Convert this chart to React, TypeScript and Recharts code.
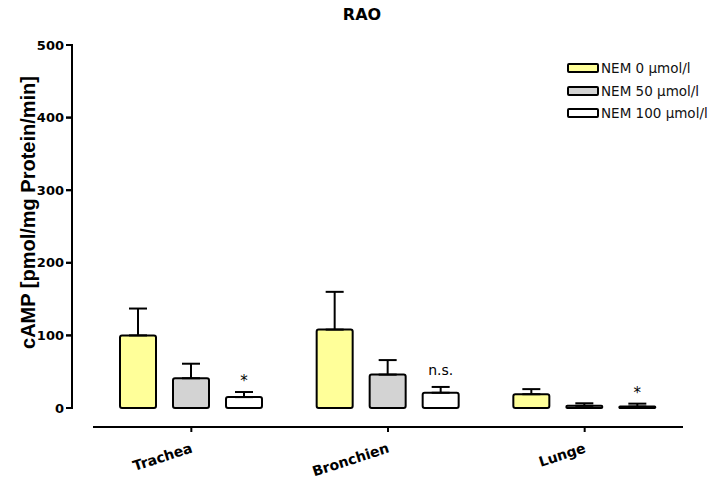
import { Bar, BarChart, ErrorBar, LabelList, XAxis, YAxis } from "recharts";

const categories = ["Trachea", "Bronchien", "Lunge"];
const nem0 = [100, 108, 19];
const nem0Err = [37, 52, 7];
const nem50 = [41, 46, 3];
const nem50Err = [20, 20, 3.5];
const nem100 = [15, 21, 2];
const nem100Err = [7, 8, 4];
const marks = ["*", "n.s.", "*"];
const yTicks = [0, 100, 200, 300, 400, 500];
const yDomain = [0, 500];

const series = [
  { key: "nem0", err: "nem0Err", name: "NEM 0 µmol/l", fill: "#ffff99" },
  { key: "nem50", err: "nem50Err", name: "NEM 50 µmol/l", fill: "#d3d3d3" },
  { key: "nem100", err: "nem100Err", name: "NEM 100 µmol/l", fill: "#ffffff" },
];

const data = categories.map((name, i) => ({
  name,
  nem0: nem0[i],
  nem0Err: nem0Err[i],
  nem50: nem50[i],
  nem50Err: nem50Err[i],
  nem100: nem100[i],
  nem100Err: nem100Err[i],
  mark: marks[i],
}));

// numeric axis ids sort from the plot outwards:
// the lower id is the inner spacer, the higher one the visible axis
const PAD = 1;
const MAIN = 2;

const sans = "'DejaVu Sans', Verdana, sans-serif";
const xAxisLine = { stroke: "#000", strokeWidth: 2 };
const xTickLine = { stroke: "#000", strokeWidth: 2 };
const yAxisLine = { stroke: "#000", strokeWidth: 2 };
const yTickLine = { stroke: "#000", strokeWidth: 2 };

function CategoryTick({ x, y, payload }: any) {
  return (
    <text
      x={x + 2}
      y={y + 18}
      transform={`rotate(-18, ${x + 2}, ${y + 18})`}
      textAnchor="end"
      fontFamily={sans}
      fontWeight="bold"
      fontSize={14}
      fill="#000"
    >
      {payload.value}
    </text>
  );
}

// value tick: label plus its tick mark (the mark spans the tick margin and size)
function ValueTick({ x, y, payload }: any) {
  return (
    <g>
      <line x1={x + 2} x2={x + 8} y1={y} y2={y} stroke="#000" strokeWidth={2} />
      <text
        x={x}
        y={y}
        dy="0.355em"
        textAnchor="end"
        fontFamily={sans}
        fontWeight="bold"
        fontSize={13}
        fill="#000"
      >
        {payload.value}
      </text>
    </g>
  );
}

// axis title, and the axis line along the right edge of the axis box
function YLabel({ viewBox }: any) {
  const cx = viewBox.x + 28;
  const cy = viewBox.y + viewBox.height / 2 - 14;
  const lineX = viewBox.x + viewBox.width;
  return (
    <g>
      <line
        x1={lineX}
        x2={lineX}
        y1={viewBox.y - 1}
        y2={viewBox.y + viewBox.height + 1}
        stroke="#000"
        strokeWidth={2}
      />
      <text
        x={cx}
        y={cy}
        transform={`rotate(-90, ${cx}, ${cy})`}
        textAnchor="middle"
        dominantBaseline="central"
        fontFamily="'Liberation Sans', Arial, sans-serif"
        fontWeight="bold"
        fontSize={20}
        fill="#000"
      >
        cAMP [pmol/mg Protein/min]
      </text>
    </g>
  );
}

function MarkLabel(props: any) {
  const { x, y, width, height, index, value } = props;
  if (!value) return null;
  const v = nem100[index];
  const e = nem100Err[index];
  const capY = y - (e * height) / v;
  const isStar = value === "*";
  return (
    <text
      x={x + width / 2}
      y={capY - (isStar ? 6 : 12)}
      textAnchor="middle"
      fontFamily={sans}
      fontSize={isStar ? 15 : 14}
      fill="#000"
      stroke="none"
    >
      {value}
    </text>
  );
}

const categoryTick = <CategoryTick />;
const valueTick = <ValueTick />;
const yLabel = <YLabel />;
const markLabel = <MarkLabel />;

export default function App() {
  return (
    <div style={{ position: "absolute", left: 0, top: 0, width: 720, height: 481, background: "#fff" }}>
      <div
        style={{
          position: "absolute",
          left: 0,
          width: 724,
          top: 5,
          textAlign: "center",
          fontFamily: sans,
          fontWeight: "bold",
          fontSize: 16,
        }}
      >
        RAO
      </div>
      <BarChart
        width={720}
        height={481}
        data={data}
        margin={{ top: 45, right: 37, bottom: 0, left: 0 }}
        barSize={36}
        barGap={17}
      >
        <YAxis yAxisId={PAD} width={21} domain={yDomain} axisLine={false} tick={false} tickLine={false} />
        <XAxis xAxisId={PAD} dataKey="name" height={19} axisLine={false} tick={false} tickLine={false} />
        <YAxis
          yAxisId={MAIN}
          width={72}
          domain={yDomain}
          ticks={yTicks}
          interval={0}
          stroke="#000"
          axisLine={yAxisLine}
          tickLine={yTickLine}
          tickSize={6}
          tick={valueTick}
          label={yLabel}
        />
        <XAxis
          xAxisId={MAIN}
          dataKey="name"
          height={54}
          stroke="#000"
          axisLine={xAxisLine}
          tickLine={xTickLine}
          tickSize={5}
          tick={categoryTick}
          interval={0}
        />
        {series.map((s) => (
          <Bar
            key={s.key}
            xAxisId={MAIN}
            yAxisId={MAIN}
            dataKey={s.key}
            name={s.name}
            fill={s.fill}
            stroke="#000"
            strokeWidth={2}
            radius={2}
            isAnimationActive={false}
          >
            <ErrorBar
              dataKey={(d: any) => [0, d[s.err]]}
              width={9}
              stroke="#000"
              strokeWidth={2}
              direction="y"
              isAnimationActive={false}
            />
            {s.key === "nem100" && <LabelList dataKey="mark" content={markLabel} />}
          </Bar>
        ))}
      </BarChart>
      <div style={{ position: "absolute", left: 567, top: 57 }}>
        {series.map((s) => (
          <div key={s.key} style={{ display: "flex", alignItems: "center", height: 22.5 }}>
            <div
              style={{
                width: 28,
                height: 6,
                background: s.fill,
                border: "2px solid #000",
                borderRadius: 2,
                marginRight: 2,
              }}
            />
            <span style={{ fontFamily: sans, fontSize: 13.5, color: "#111" }}>{s.name}</span>
          </div>
        ))}
      </div>
    </div>
  );
}
